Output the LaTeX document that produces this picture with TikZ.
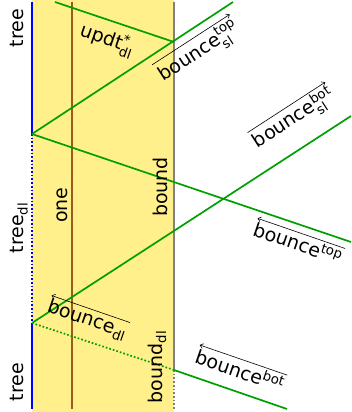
\documentclass[tikz,border=0pt]{standalone}
\usepackage{amsmath}
\usepackage{fontspec}
\setmainfont{DejaVu Sans}
\usetikzlibrary{arrows.meta}
\definecolor{band}{HTML}{FFF08C}
\definecolor{wave}{HTML}{00A000}
\definecolor{rod}{HTML}{9C5A1E}
\newcommand{\supsub}[2]{$^{\text{#1}}_{\text{#2}}$}
\newcommand{\sub}[1]{$_{\text{#1}}$}
\newcommand{\sups}[1]{$^{\text{#1}}$}

\begin{document}
\begin{tikzpicture}[
    x=1pt, y=-1pt,
    lbl/.style={font=\fontsize{19}{22}\selectfont, inner sep=1pt},
    wlbl/.style={lbl, inner xsep=0pt, inner ysep=2pt},
    wall/.style={line width=1.7pt},
    wv/.style={wave, line width=1.7pt},
    ovr/.style={-{Straight Barb[length=3pt, width=5pt]}, line width=0.6pt},
]
\useasboundingbox (0,0) rectangle (351,412);

% Band
\fill[band] (32,0) rectangle (174,412);

% Points
\coordinate (treeTop) at (32,2);
\coordinate (reflA) at (32,134);
\coordinate (reflB) at (32,323);
\coordinate (treeBot) at (32,409);
\coordinate (oneTop) at (72,2);
\coordinate (oneBot) at (72,409);
\coordinate (boundTop) at (174,2);
\coordinate (hitH) at (174,42);
\coordinate (boundC) at (174,370);
\coordinate (boundBot) at (174,409);
\coordinate (inTop) at (55,2);
\coordinate (outTop) at (233,2);
\coordinate (outMid) at (351,242);
\coordinate (outUp) at (351,116);
\coordinate (inBot) at (287,409);

% Walls
\draw[wall, blue] (treeTop) -- (reflA);
\draw[wall, blue, dotted] (reflA) -- (reflB);
\draw[wall, blue] (reflB) -- (treeBot);
\draw[wall, rod] (oneTop) -- (oneBot);
\draw[wall, gray] (boundTop) -- (boundC);
\draw[wall, gray, dotted] (boundC) -- (boundBot);

% Waves
\draw[wv] (inTop) -- (hitH);
\draw[wv] (reflA) -- (outTop);
\draw[wv] (reflA) -- (outMid);
\draw[wv] (reflB) -- (outUp);
\draw[wv, dotted] (reflB) -- (boundC);
\draw[wv] (boundC) -- (inBot);

% Wall labels
\node[lbl, rotate=90] (treeA) at (17,28) {tree};
\node[lbl, rotate=90] (treeDl) at (19,228) {tree\sub{dl}};
\node[lbl, rotate=90] (treeB) at (17,382) {tree};
\node[lbl, rotate=90] (oneL) at (62,205) {one};
\node[lbl, rotate=90] (boundL) at (160,187) {bound};
\node[lbl, rotate=90] (boundDl) at (157,367) {bound\sub{dl}};

% Wave labels
\node[lbl, rotate=-19] (updt) at (107,40) {updt\supsub{*}{dl}};
\node[wlbl, rotate=33] (bTopSl) at (199,52) {bounce\supsub{top}{sl}};
\node[wlbl, rotate=33] (bBotSl) at (294,119) {bounce\supsub{bot}{sl}};
\node[wlbl, rotate=-19] (bTop) at (298,243) {bounce\sups{top}};
\node[wlbl, rotate=-19] (bDl) at (87,320) {bounce\sub{dl}};
\node[wlbl, rotate=-19] (bBot) at (240,370) {bounce\sups{bot}};

% Arrows over labels
\draw[ovr] (bTopSl.north west) -- (bTopSl.north east);
\draw[ovr] (bBotSl.north west) -- (bBotSl.north east);
\draw[ovr] (bTop.north east) -- (bTop.north west);
\draw[ovr] (bDl.north east) -- (bDl.north west);
\draw[ovr] (bBot.north east) -- (bBot.north west);

\end{tikzpicture}
\end{document}
